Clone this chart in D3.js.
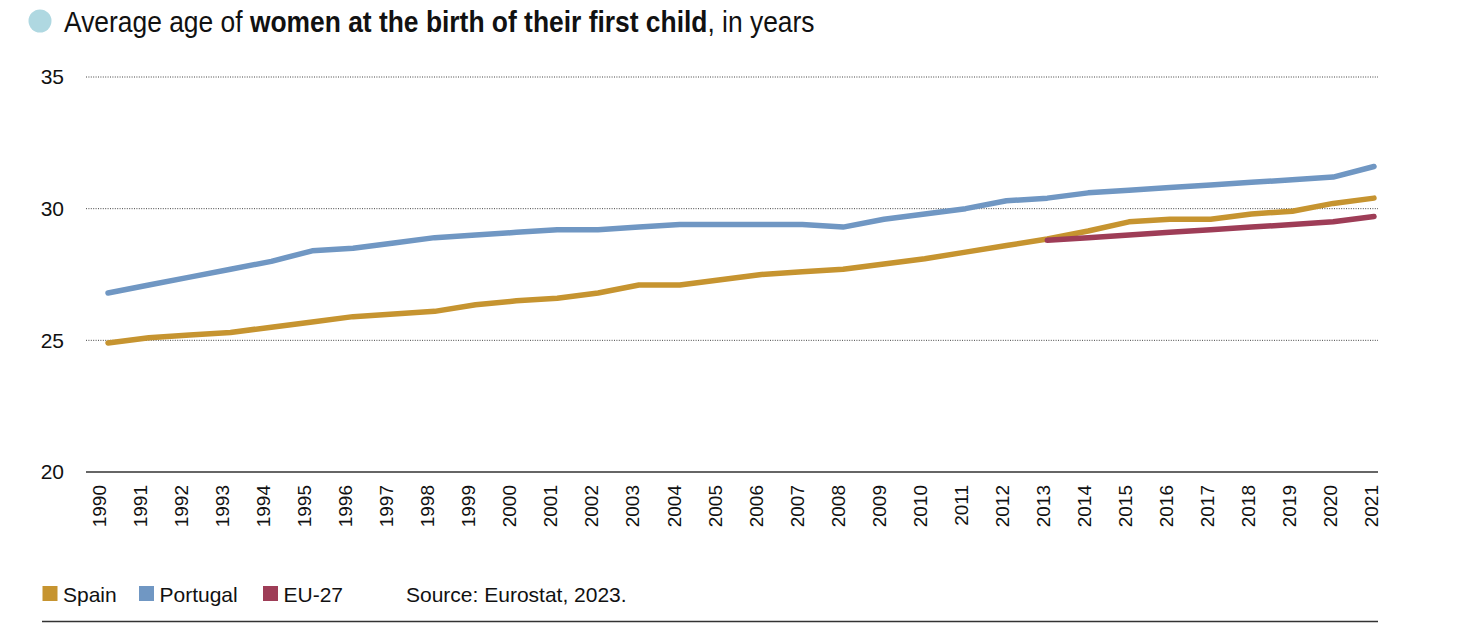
<!DOCTYPE html>
<html>
<head>
<meta charset="utf-8">
<script src="https://cdn.jsdelivr.net/npm/d3@7"></script>
<style>
  html, body { margin: 0; padding: 0; background: #fff; }
  svg { display: block; font-family: "Liberation Sans", Arial, Helvetica, sans-serif; }
</style>
</head>
<body>
<svg id="chart" width="1461" height="626"></svg>
<script>
const years = d3.range(1990, 2022);
const spain = [24.9, 25.1, 25.2, 25.3, 25.5, 25.7, 25.9, 26.0, 26.1, 26.35, 26.5, 26.6, 26.8, 27.1, 27.1, 27.3, 27.5, 27.6, 27.7, 27.9, 28.1, 28.35, 28.6, 28.85, 29.15, 29.5, 29.6, 29.6, 29.8, 29.9, 30.2, 30.4];
const portugal = [26.8, 27.1, 27.4, 27.7, 28.0, 28.4, 28.5, 28.7, 28.9, 29.0, 29.1, 29.2, 29.2, 29.3, 29.4, 29.4, 29.4, 29.4, 29.3, 29.6, 29.8, 30.0, 30.3, 30.4, 30.6, 30.7, 30.8, 30.9, 31.0, 31.1, 31.2, 31.6];
const euYears = d3.range(2013, 2022);
const eu27 = [28.8, 28.9, 29.0, 29.1, 29.2, 29.3, 29.4, 29.5, 29.7];
const yTicks = [20, 25, 30, 35];
const seriesNames = ["Spain", "Portugal", "EU-27"];
const seriesColors = ["#c69430", "#7097c3", "#9e3d57"];
const titleParts = [
  {text: "Average age of ", bold: false},
  {text: "women at the birth of their first child", bold: true},
  {text: ", in years", bold: false}
];
const sourceText = "Source: Eurostat, 2023.";

const svg = d3.select("#chart");

const x = d3.scaleLinear().domain([1990, 2021]).range([108, 1374]);
const xLab = d3.scaleLinear().domain([1990, 2021]).range([98.5, 1371]);
const y = d3.scaleLinear().domain([20, 35]).range([472, 77]);
const gridLeft = 86, gridRight = 1378;

// Title
svg.append("circle").attr("cx", 40).attr("cy", 21).attr("r", 11.5).attr("fill", "#afd8e1");
const title = svg.append("text").attr("x", 0).attr("y", 0)
  .attr("font-size", 29).attr("fill", "#111");
title.selectAll("tspan").data(titleParts).join("tspan")
  .attr("font-weight", d => d.bold ? "bold" : "normal")
  .text(d => d.text);
const tw = title.node().getComputedTextLength();
title.attr("transform", `translate(64,31.5) scale(${751 / tw},1)`);

// Grid lines (dotted)
const gridTicks = yTicks.filter(t => t !== 20);
svg.append("g").selectAll("line").data(gridTicks).join("line")
  .attr("x1", gridLeft).attr("x2", gridRight)
  .attr("y1", d => y(d)).attr("y2", d => y(d))
  .attr("stroke", "#444").attr("stroke-width", 1)
  .attr("stroke-dasharray", "1,1.4");

// Baseline
svg.append("line")
  .attr("x1", gridLeft).attr("x2", gridRight)
  .attr("y1", y(20)).attr("y2", y(20))
  .attr("stroke", "#333").attr("stroke-width", 1.3);

// Y axis labels
const yAxis = d3.axisLeft(y).tickValues(yTicks).tickSize(0).tickPadding(0);
const gy = svg.append("g").attr("transform", "translate(64,0)").call(yAxis);
gy.select(".domain").remove();
gy.selectAll("text").attr("font-size", 21).attr("fill", "#111")
  .attr("font-family", "'Liberation Sans', Arial, sans-serif");

// X axis labels
const xAxis = d3.axisBottom(xLab).tickValues(years).tickFormat(d3.format("d")).tickSize(0);
const gx = svg.append("g").attr("transform", `translate(0,${y(20)})`).call(xAxis);
gx.select(".domain").remove();
gx.selectAll("text")
  .attr("font-size", 19).attr("fill", "#111")
  .attr("font-family", "'Liberation Sans', Arial, sans-serif")
  .attr("text-anchor", "end")
  .attr("transform", "rotate(-90)")
  .attr("x", -13).attr("y", 0).attr("dy", "0.36em");

// Lines
const line = d3.line().x(d => x(d[0])).y(d => y(d[1]));
const seriesData = [
  years.map((yr, i) => [yr, spain[i]]),
  years.map((yr, i) => [yr, portugal[i]]),
  euYears.map((yr, i) => [yr, eu27[i]])
];
// draw order: Portugal, Spain, EU (EU on top of Spain)
[1, 0, 2].forEach(i => {
  svg.append("path").datum(seriesData[i])
    .attr("d", line)
    .attr("fill", "none")
    .attr("stroke", seriesColors[i])
    .attr("stroke-width", 5.5)
    .attr("stroke-linejoin", "round")
    .attr("stroke-linecap", "round");
});

// Legend
const legendX = [42.5, 139, 263];
const lg = svg.append("g");
seriesNames.forEach((name, i) => {
  lg.append("rect").attr("x", legendX[i]).attr("y", 586).attr("width", 15).attr("height", 15)
    .attr("fill", seriesColors[i]);
  lg.append("text").attr("x", legendX[i] + 20.5).attr("y", 601.5)
    .attr("font-size", 21).attr("fill", "#111").text(name);
});
svg.append("text").attr("x", 406).attr("y", 601.5)
  .attr("font-size", 21).attr("fill", "#111").text(sourceText);

// Bottom rule
svg.append("line").attr("x1", 42).attr("x2", gridRight)
  .attr("y1", 621.5).attr("y2", 621.5)
  .attr("stroke", "#333").attr("stroke-width", 1.3);
</script>
</body>
</html>
